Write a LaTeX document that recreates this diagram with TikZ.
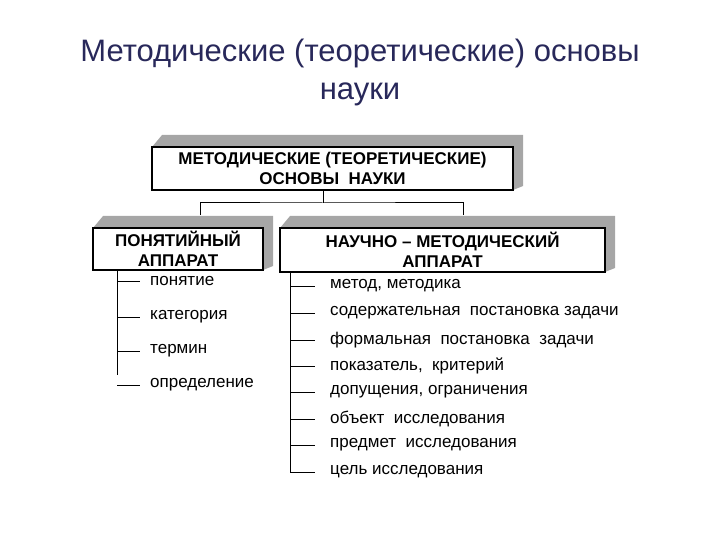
\documentclass[tikz,border=0pt]{standalone}
\usepackage{fontspec}
\setmainfont{Liberation Sans}
\definecolor{ttl}{RGB}{40,40,90}
\begin{document}
\begin{tikzpicture}[x=1pt,y=-1pt,
  box/.style={draw,line width=1.6pt,fill=white,align=center,font=\bfseries\fontsize{17}{20}\selectfont,inner sep=0pt},
  item/.style={anchor=west,font=\fontsize{17}{19}\selectfont,inner sep=0pt},
  ln/.style={line width=1pt}]
\useasboundingbox (0,0) rectangle (720,540);
\node[font=\fontsize{31}{38}\selectfont,text=ttl,align=center] (title) at (360,72) {Методические (теоретические) основы\\науки};
\newcommand{\shbox}[6]{% name x1 y1 x2 y2 text
  \fill[gray!70] (#2,#3) -- (#2+10,#3-12) -- (#4+10,#3-12) -- (#4+10,#5-4) -- (#4,#5) -- (#4,#3) -- cycle;
  \node[box,minimum width=#4-#2,minimum height=#5-#3] (#1) at ({(#2+#4)/2},{(#3+#5)/2}) {#6};}
\shbox{top}{152}{147}{513}{190}{МЕТОДИЧЕСКИЕ (ТЕОРЕТИЧЕСКИЕ)\\ОСНОВЫ\ \ НАУКИ}
\shbox{left}{93}{228}{263}{270}{ПОНЯТИЙНЫЙ\\АППАРАТ}
\shbox{right}{280}{228}{605}{272}{НАУЧНО – МЕТОДИЧЕСКИЙ\\АППАРАТ}
\coordinate (j) at (323,203);
\draw[ln] (top.south -| j) -- (j);
\draw[ln] (200,215) |- (j) -| (463,215);
% left list
\coordinate (ls) at (117,270);
\foreach \t/\y [count=\i] in {понятие/281,категория/317,термин/351,определение/385}{
  \coordinate (lt\i) at (117,\y);
  \draw[ln] (lt\i) -- ++(23,0);
  \node[item] (li\i) at (150,\y) {\t};
}
\draw[ln] (ls) -- (117,375);
% right list
\coordinate (rs) at (290,272);
\foreach \t/\y [count=\i] in {{метод, методика}/286,{содержательная\ \ постановка задачи}/313,{формальная\ \ постановка\ \ задачи}/340,{показатель,\ \ критерий}/366,{допущения, ограничения}/392,{объект\ \ исследования}/419,{предмет\ \ исследования}/445,{цель исследования}/472}{
  \coordinate (rt\i) at (290,\y);
  \draw[ln] (rt\i) -- ++(25,0);
  \node[item] (ri\i) at (330,\y) {\t};
}
\draw[ln] (rs) -- (rt8);
\end{tikzpicture}
\end{document}
